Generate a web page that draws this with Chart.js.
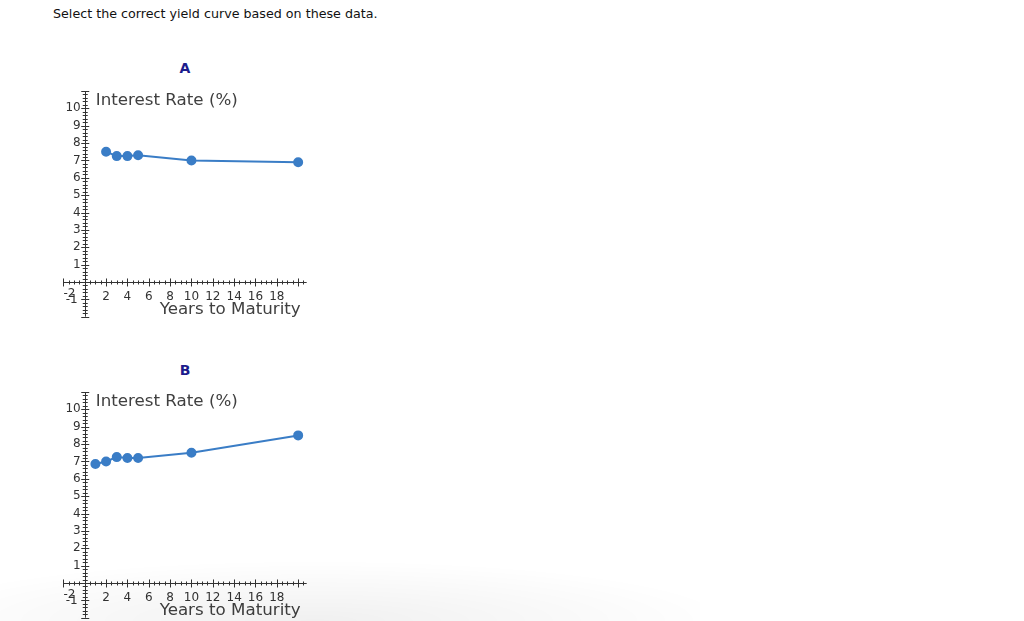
<!DOCTYPE html>
<html>
<head>
<meta charset="utf-8">
<script src="https://cdn.jsdelivr.net/npm/chart.js@4"></script>
<style>
    body {
        margin: 0;
        width: 1024px;
        height: 621px;
        background: #fff;
        position: relative;
        overflow: hidden;
        font-family: "DejaVu Sans", Verdana, sans-serif;
    }
    .question {
        position: absolute;
        left: 53px;
        top: 6px;
        font-size: 12.7px;
        color: #111;
    }
    .panel-title {
        position: absolute;
        width: 40px;
        text-align: center;
        font-size: 14px;
        font-weight: bold;
        color: #1c1c8c;
    }
    canvas {
        position: absolute;
    }
    .shade {
        position: absolute;
        left: 0;
        top: 560px;
        width: 700px;
        height: 61px;
        background: radial-gradient(ellipse 60% 100% at 45% 100%, rgba(0,0,0,0.06), rgba(0,0,0,0) 100%);
    }
</style>
</head>
<body>
<div class="question">Select the correct yield curve based on these data.</div>
<div class="panel-title" style="left:165px; top:60px;">A</div>
<canvas id="chartA" width="280" height="240" style="left:40px; top:85px;"></canvas>
<div class="panel-title" style="left:165px; top:362px;">B</div>
<canvas id="chartB" width="280" height="240" style="left:40px; top:386px;"></canvas>
<div class="shade"></div>

<script>
// Yield curve A (slightly falling)
const maturitiesA = [2, 3, 4, 5, 10, 20];
const ratesA = [7.5, 7.25, 7.25, 7.3, 7.0, 6.9];

// Yield curve B (rising)
const maturitiesB = [1, 2, 3, 4, 5, 10, 20];
const ratesB = [6.85, 7.0, 7.25, 7.2, 7.2, 7.5, 8.5];

// Axis labels as they appear on the graph
const xTickLabels = [2, 4, 6, 8, 10, 12, 14, 16, 18];
const yTickLabels = [1, 2, 3, 4, 5, 6, 7, 8, 9, 10];
const xNegLabel = -2;
const yNegLabel = -1;
const xTitle = 'Years to Maturity';
const yTitle = 'Interest Rate (%)';

const axisColor = '#333';
const curveColor = '#3a7dc6';

// Draws the calculator-style axes through the origin
const originAxes = {
    id: 'originAxes',
    beforeDatasetsDraw(chart) {
        const ctx = chart.ctx;
        const xs = chart.scales.x;
        const ys = chart.scales.y;
        const x0 = xs.getPixelForValue(0);
        const y0 = ys.getPixelForValue(0);

        ctx.save();
        ctx.strokeStyle = axisColor;
        ctx.lineWidth = 1;

        // axis lines
        ctx.beginPath();
        ctx.moveTo(xs.left, Math.round(y0) + 0.5);
        ctx.lineTo(xs.right, Math.round(y0) + 0.5);
        ctx.moveTo(Math.round(x0) + 0.5, ys.top);
        ctx.lineTo(Math.round(x0) + 0.5, ys.bottom);
        ctx.stroke();

        // x ticks: minor every 0.5, major every 2
        ctx.beginPath();
        for (let v = xs.min; v <= xs.max + 1e-6; v += 0.5) {
            const px = Math.round(xs.getPixelForValue(v)) + 0.5;
            const len = Math.abs(v % 2) < 1e-6 ? 3.5 : 1.5;
            ctx.moveTo(px, y0 - len);
            ctx.lineTo(px, y0 + len + 1);
        }
        // y ticks: minor every 0.2, major every 1
        for (let i = Math.round(ys.min * 5); i <= Math.round(ys.max * 5); i++) {
            const py = Math.round(ys.getPixelForValue(i / 5)) + 0.5;
            const len = i % 5 === 0 ? 3.5 : 2;
            ctx.moveTo(x0 - len, py);
            ctx.lineTo(x0 + len + 1, py);
        }
        ctx.stroke();

        // tick labels
        ctx.fillStyle = axisColor;
        ctx.font = '12px "DejaVu Sans"';
        ctx.textAlign = 'center';
        ctx.textBaseline = 'middle';
        xTickLabels.forEach(v => {
            ctx.fillText(String(v), xs.getPixelForValue(v), y0 + 15);
        });
        ctx.textAlign = 'right';
        yTickLabels.forEach(v => {
            ctx.fillText(String(v), x0 - 4, ys.getPixelForValue(v));
        });
        // the two negative labels overlap near the origin, as on the calculator
        ctx.textAlign = 'left';
        ctx.fillText(String(xNegLabel), xs.getPixelForValue(xNegLabel), y0 + 12);
        ctx.textAlign = 'right';
        ctx.fillText(String(yNegLabel), x0 - 7, ys.getPixelForValue(yNegLabel) + 1);

        // axis titles
        ctx.font = '16.7px "DejaVu Sans"';
        ctx.fillStyle = '#404040';
        ctx.textBaseline = 'alphabetic';
        ctx.textAlign = 'left';
        ctx.fillText(yTitle, x0 + 11, ys.top + 14);
        ctx.textAlign = 'right';
        ctx.fillText(xTitle, xs.right - 6, y0 + 32);
        ctx.restore();
    }
};

function makeCurve(canvasId, maturities, rates) {
    const points = maturities.map((m, i) => ({ x: m, y: rates[i] }));
    return new Chart(document.getElementById(canvasId), {
        type: 'line',
        data: {
            datasets: [{
                data: points,
                borderColor: curveColor,
                backgroundColor: curveColor,
                borderWidth: 2,
                pointRadius: 4,
                pointHoverRadius: 4,
                tension: 0,
                clip: false
            }]
        },
        options: {
            responsive: false,
            animation: false,
            events: [],
            layout: {
                padding: { left: 23.4, right: 13.3, top: 4.3, bottom: 8.3 }
            },
            scales: {
                x: { type: 'linear', min: -2, max: 20.8, display: false },
                y: { type: 'linear', min: -2, max: 11, display: false }
            },
            plugins: {
                legend: { display: false },
                tooltip: { enabled: false }
            }
        },
        plugins: [originAxes]
    });
}

makeCurve('chartA', maturitiesA, ratesA);
makeCurve('chartB', maturitiesB, ratesB);
</script>
</body>
</html>
